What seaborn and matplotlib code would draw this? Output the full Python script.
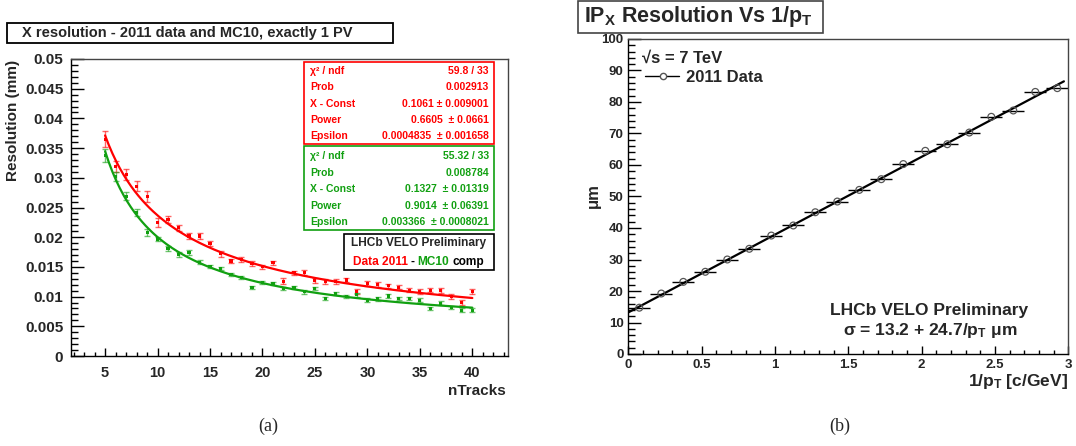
import numpy as np
import pandas as pd
import matplotlib
matplotlib.use("Agg")
import matplotlib.pyplot as plt
import seaborn as sns
from matplotlib.patches import Rectangle
from matplotlib.lines import Line2D
from matplotlib.ticker import MultipleLocator, FuncFormatter

# ---------------- data: panel (a) ----------------
ntracks = list(range(5, 41))
data_res = [0.0365, 0.0319, 0.0305, 0.0286, 0.0269, 0.0225, 0.0230, 0.0216, 0.0202, 0.0202,
            0.0190, 0.0172, 0.0160, 0.0162, 0.0156, 0.0150, 0.0157, 0.0126, 0.0140, 0.0140,
            0.0127, 0.0126, 0.0125, 0.0128, 0.0108, 0.0122, 0.0121, 0.0118, 0.0116, 0.0111,
            0.0108, 0.0111, 0.0110, 0.0100, 0.0090, 0.0108]
data_err = [0.0013, 0.0009, 0.0009, 0.0008, 0.0009, 0.0008, 0.0006, 0.0005, 0.0005, 0.0005,
            0.0004, 0.0005, 0.0004, 0.0004, 0.0004, 0.0004, 0.0003, 0.0005, 0.0003, 0.0004,
            0.0004, 0.0004, 0.0004, 0.0004, 0.0004, 0.0004, 0.0004, 0.0004, 0.0004, 0.0004,
            0.0004, 0.0004, 0.0004, 0.0004, 0.0004, 0.0004]
mc_res = [0.0338, 0.0302, 0.0269, 0.0242, 0.0208, 0.0197, 0.0181, 0.0171, 0.0174, 0.0158,
          0.0151, 0.0147, 0.0137, 0.0132, 0.0115, 0.0124, 0.0122, 0.0114, 0.0115, 0.0108,
          0.0114, 0.0097, 0.0105, 0.0100, 0.0103, 0.0094, 0.0096, 0.0101, 0.0097, 0.0097,
          0.0094, 0.0080, 0.0089, 0.0082, 0.0077, 0.0077]
mc_err = [0.0011, 0.0007, 0.0007, 0.0006, 0.0006, 0.0004, 0.0004, 0.0004, 0.0004, 0.0003,
          0.0003, 0.0003, 0.0003, 0.0003, 0.0003, 0.0003, 0.0003, 0.0003, 0.0003, 0.0003,
          0.0003, 0.0003, 0.0003, 0.0003, 0.0003, 0.0003, 0.0003, 0.0003, 0.0003, 0.0003,
          0.0003, 0.0003, 0.0003, 0.0003, 0.0003, 0.0003]
# fit parameters shown in the stat boxes: X-Const, Power, Epsilon
data_fit = [0.1061, 0.6605, 0.0004835]
mc_fit = [0.1327, 0.9014, 0.003366]
data_stats = [("χ² / ndf", "59.8 / 33"), ("Prob", "0.002913"),
              ("X - Const", "0.1061 ± 0.009001"), ("Power", "0.6605  ± 0.0661"),
              ("Epsilon", "0.0004835  ± 0.001658")]
mc_stats = [("χ² / ndf", "55.32 / 33"), ("Prob", "0.008784"),
            ("X - Const", "0.1327  ± 0.01319"), ("Power", "0.9014  ± 0.06391"),
            ("Epsilon", "0.003366  ± 0.0008021")]

# ---------------- data: panel (b) ----------------
inv_pt = [0.075, 0.225, 0.375, 0.525, 0.675, 0.825, 0.975, 1.125, 1.275, 1.425,
          1.575, 1.725, 1.875, 2.025, 2.175, 2.325, 2.475, 2.625, 2.775, 2.925]
ip_res = [14.7, 19.2, 22.9, 26.1, 30.0, 33.4, 37.6, 40.8, 45.0, 48.4,
          52.1, 55.5, 60.3, 64.5, 66.6, 70.3, 75.3, 77.3, 83.2, 84.4]
bin_half = 0.075
ip_fit = [13.2, 24.7]

# ---------------- style ----------------
sns.set_theme(style="white")
plt.rcParams["font.family"] = ["Liberation Sans", "DejaVu Sans"]
plt.rcParams["font.weight"] = "bold"
plt.rcParams["mathtext.fontset"] = "custom"
plt.rcParams["mathtext.rm"] = "Liberation Sans:bold"
plt.rcParams["mathtext.it"] = "Liberation Sans:bold"
plt.rcParams["mathtext.bf"] = "Liberation Sans:bold"
plt.rcParams["mathtext.default"] = "rm"

RED = "#ff0000"
GREEN = "#11a011"
W, H = 1076, 446
fig = plt.figure(figsize=(W / 100, H / 100), dpi=100)
fig.patch.set_facecolor("white")


def fx(x):
    return x / W


def fy(y):
    return 1 - y / H


def box(x0, y0, x1, y1, color, lw=1.2):
    fig.add_artist(Rectangle((fx(x0), fy(y1)), (x1 - x0) / W, (y1 - y0) / H,
                             transform=fig.transFigure, facecolor="white",
                             edgecolor=color, lw=lw, zorder=5))


def gfmt(v, pos):
    return "%g" % round(v, 6)


def style_axes(ax, ylen_major, ylen_minor, xlen_major, xlen_minor, xsize, ysize, xpad, ypad):
    ax.tick_params(axis="both", which="both", direction="in", top=False, right=False,
                   bottom=True, left=True, color="black", width=1)
    ax.tick_params(axis="y", which="major", length=ylen_major, labelsize=ysize, pad=ypad)
    ax.tick_params(axis="y", which="minor", length=ylen_minor)
    ax.tick_params(axis="x", which="major", length=xlen_major, labelsize=xsize, pad=xpad)
    ax.tick_params(axis="x", which="minor", length=xlen_minor)
    for lab in ax.get_xticklabels() + ax.get_yticklabels():
        lab.set_fontweight("bold")
    for side in ["left", "bottom"]:
        ax.spines[side].set_color("black")
        ax.spines[side].set_linewidth(1)
    for side in ["top", "right"]:
        ax.spines[side].set_color("#444444")
        ax.spines[side].set_linewidth(1)
    ax.xaxis.set_major_formatter(FuncFormatter(gfmt))
    ax.yaxis.set_major_formatter(FuncFormatter(gfmt))
    ax.set_xlabel("")
    ax.set_ylabel("")


# ================= panel (a) =================
ax1 = fig.add_axes([fx(71), fy(356), (508 - 71) / W, (356 - 59) / H])
nfit = np.linspace(ntracks[0], ntracks[-1], 200)
red_curve = data_fit[0] / nfit ** data_fit[1] + data_fit[2]
green_curve = mc_fit[0] / nfit ** mc_fit[1] + mc_fit[2]

ax1.errorbar(ntracks, data_res, yerr=data_err, fmt="none", ecolor=RED, alpha=0.6,
             capsize=2.2, elinewidth=1, capthick=1, zorder=2)
ax1.errorbar(ntracks, mc_res, yerr=mc_err, fmt="none", ecolor=GREEN, alpha=0.6,
             capsize=2.2, elinewidth=1, capthick=1, zorder=2)
sns.lineplot(x=nfit, y=red_curve, ax=ax1, color=RED, lw=1.6, zorder=3)
sns.lineplot(x=nfit, y=green_curve, ax=ax1, color=GREEN, lw=1.6, zorder=3)
sns.scatterplot(x=ntracks, y=data_res, ax=ax1, color=RED, marker="s", s=5,
                edgecolor="none", zorder=4)
sns.scatterplot(x=ntracks, y=mc_res, ax=ax1, color=GREEN, marker="s", s=5,
                edgecolor="none", zorder=4)
ax1.set_xlim(1.75, 43.4)
ax1.set_ylim(0, 0.05)
ax1.xaxis.set_major_locator(MultipleLocator(5))
ax1.xaxis.set_minor_locator(MultipleLocator(1))
ax1.yaxis.set_major_locator(MultipleLocator(0.005))
ax1.yaxis.set_minor_locator(MultipleLocator(0.001))
style_axes(ax1, 9.5, 4.7, 6, 3, 10.5, 11, 7, 5.5)

# title box (a)
box(7, 23, 393, 43, "black", lw=1.3)
fig.text(fx(22), fy(33), "X resolution - 2011 data and MC10, exactly 1 PV",
         ha="left", va="center", fontsize=10.5, fontweight="bold", zorder=6)

# axis titles (a)
fig.text(fx(13.5), fy(60), "Resolution (mm)", rotation=90, ha="center", va="top",
         fontsize=11, fontweight="bold")
fig.text(fx(506), fy(391), "nTracks", ha="right", va="center", fontsize=11,
         fontweight="bold")

# stat boxes
box(304, 62, 494, 144, RED)
for i, (k, v) in enumerate(data_stats):
    yy = 71 + i * 16.3
    fig.text(fx(310), fy(yy), k, ha="left", va="center", color=RED, fontsize=7.5,
             fontweight="bold", zorder=6)
    fig.text(fx(489), fy(yy), v, ha="right", va="center", color=RED, fontsize=7.5,
             fontweight="bold", zorder=6)
box(304, 146, 494, 230, GREEN)
for i, (k, v) in enumerate(mc_stats):
    yy = 156 + i * 16.6
    fig.text(fx(310), fy(yy), k, ha="left", va="center", color=GREEN, fontsize=7.5,
             fontweight="bold", zorder=6)
    fig.text(fx(489), fy(yy), v, ha="right", va="center", color=GREEN, fontsize=7.5,
             fontweight="bold", zorder=6)
box(344, 234, 494, 270, "black")
fig.text(fx(419), fy(243), "LHCb VELO Preliminary", ha="center", va="center",
         fontsize=8.6, fontweight="bold", zorder=6)
prev = fig.text(fx(353), fy(262), "Data 2011", ha="left", va="center", color=RED,
                fontsize=8.6, fontweight="bold", zorder=6)
for word, col in [("-", "black"), ("MC10", GREEN), ("comp", "black")]:
    prev = fig.add_artist(matplotlib.text.Annotation(
        word, xy=(1, 0), xycoords=prev, xytext=(2, 0), textcoords="offset points",
        ha="left", va="bottom", color=col, fontsize=8.6, fontweight="bold", zorder=6))

# ================= panel (b) =================
ax2 = fig.add_axes([fx(628.3), fy(354), (1068.3 - 628.3) / W, (354 - 39) / H])
xfit = np.array([0.0, 2.97])
yfit = ip_fit[0] + ip_fit[1] * xfit
ax2.errorbar(inv_pt, ip_res, xerr=bin_half, fmt="none", ecolor="black",
             elinewidth=1, capsize=0, zorder=2)
sns.lineplot(x=xfit, y=yfit, ax=ax2, color="black", lw=1.6, zorder=3)
sns.scatterplot(x=inv_pt, y=ip_res, ax=ax2, marker="o", s=24, facecolor="none",
                edgecolor="#555555", linewidth=0.9, zorder=4)
ax2.set_xlim(0, 3)
ax2.set_ylim(0, 100)
ax2.xaxis.set_major_locator(MultipleLocator(0.5))
ax2.xaxis.set_minor_locator(MultipleLocator(0.1))
ax2.yaxis.set_major_locator(MultipleLocator(10))
ax2.yaxis.set_minor_locator(MultipleLocator(2))
style_axes(ax2, 9.5, 4.7, 6, 3, 9.5, 9.5, 3.5, 3.5)

# title box (b)
box(578, 1, 823, 33, "#444444", lw=1.2)
fig.text(fx(584), fy(22), r"IP$_{X}$ Resolution Vs 1/p$_{T}$", ha="left",
         va="baseline", fontsize=15.5, fontweight="bold", zorder=6)

# axis titles (b)
fig.text(fx(593), fy(196), "μm", rotation=90, ha="center", va="center",
         fontsize=12, fontweight="bold")
fig.text(fx(1068), fy(386), r"1/p$_{T}$ [c/GeV]", ha="right", va="baseline",
         fontsize=12.5, fontweight="bold")

# legend (b)
fig.text(fx(642), fy(58), "√s = 7 TeV", ha="left", va="center", fontsize=12,
         fontweight="bold")
fig.add_artist(Line2D([fx(645), fx(679)], [fy(76), fy(76)], transform=fig.transFigure,
                      color="black", lw=1, marker=None))
fig.add_artist(Line2D([fx(662.5)], [fy(76)], transform=fig.transFigure, color="#555555",
                      marker="o", markersize=4.5, markerfacecolor="white", lw=0))
fig.text(fx(686), fy(78), "2011 Data", ha="left", va="center", fontsize=12,
         fontweight="bold")

# annotation (b)
fig.text(fx(929), fy(311), "LHCb VELO Preliminary", ha="center", va="center",
         fontsize=12.5, fontweight="bold")
fig.text(fx(930), fy(335), r"σ = 13.2 + 24.7/p$_{T}$ μm", ha="center", va="baseline",
         fontsize=12.5, fontweight="bold")

# captions
fig.text(fx(268), fy(426), "(a)", ha="center", va="center", fontsize=13,
         fontweight="normal", family=["Liberation Serif", "DejaVu Serif"])
fig.text(fx(840), fy(426), "(b)", ha="center", va="center", fontsize=13,
         fontweight="normal", family=["Liberation Serif", "DejaVu Serif"])

fig.savefig("out.png", dpi=100, facecolor="white")
